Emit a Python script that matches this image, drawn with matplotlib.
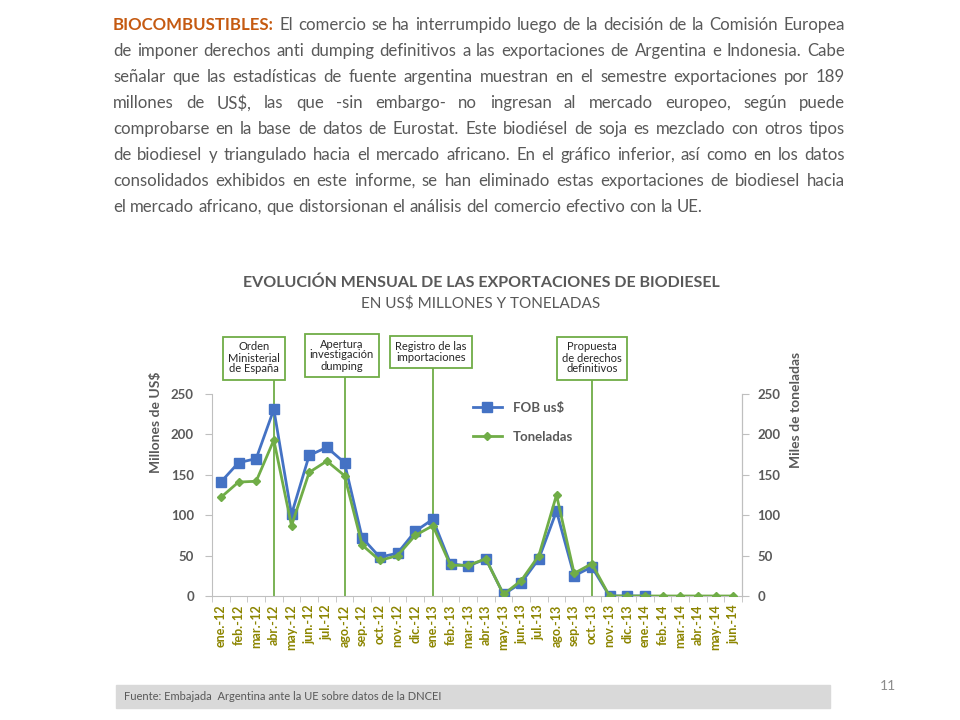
import matplotlib
matplotlib.use('Agg')
import matplotlib.pyplot as plt
import numpy as np

# region Data
months = ["ene.-12", "feb.-12", "mar.-12", "abr.-12", "may.-12", "jun.-12", "jul.-12",
          "ago.-12", "sep.-12", "oct.-12", "nov.-12", "dic.-12", "ene.-13", "feb.-13",
          "mar.-13", "abr.-13", "may.-13", "jun.-13", "jul.-13", "ago.-13", "sep.-13",
          "oct.-13", "nov.-13", "dic.-13", "ene.-14", "feb.-14", "mar.-14", "abr.-14",
          "may.-14", "jun.-14"]
fob_usd = [141, 165, 170, 231, 101, 174, 184, 165, 72, 48, 53, 80, 95, 40, 37, 46,
           2, 16, 46, 105, 25, 36, 0, 0, 0, None, None, None, None, None]
toneladas = [122, 141, 142, 193, 87, 153, 167, 149, 63, 44, 50, 75, 87, 38, 38, 46,
             2, 19, 50, 125, 28, 40, 0, 0, 0, 0, 0, 0, 0, 0]
events = [("abr.-12", "Orden\nMinisterial\nde España"),
          ("ago.-12", "Apertura\ninvestigación\ndumping"),
          ("ene.-13", "Registro de las\nimportaciones"),
          ("oct.-13", "Propuesta\nde derechos\ndefinitivos")]
paragraph = [
    "El comercio se ha interrumpido luego de la decisión de la Comisión Europea",
    "de imponer derechos anti dumping definitivos a las exportaciones de Argentina e Indonesia. Cabe",
    "señalar que las estadísticas de fuente argentina muestran en el semestre exportaciones por 189",
    "millones de US$, las que -sin embargo- no ingresan al mercado europeo, según puede",
    "comprobarse en la base de datos de Eurostat. Este biodiésel de soja es mezclado con otros tipos",
    "de biodiesel y triangulado hacia el mercado africano. En el gráfico inferior, así como en los datos",
    "consolidados exhibidos en este informe, se han eliminado estas exportaciones de biodiesel hacia",
    "el mercado africano, que distorsionan el análisis del comercio efectivo con la UE.",
]
# endregion

plt.rcParams['font.family'] = ['Lato', 'DejaVu Sans']

GRAY = '#595959'
BLUE = '#4472C4'
GREEN = '#70AD47'
OLIVE = '#8C8500'

fig = plt.figure(figsize=(9.6, 7.2), dpi=100)
W, H = 960, 720


def fx(px):
    return px / W


def fy(py):
    return 1 - py / H


renderer = fig.canvas.get_renderer()


def text_width(s, **kw):
    t = fig.text(0, 0, s, **kw)
    w = t.get_window_extent(renderer).width
    t.remove()
    return w


# paragraph, justified word by word
left_px, right_px = 113, 845
head = "BIOCOMBUSTIBLES:"
widest = max(text_width((head + " " if i == 0 else "") + l, fontsize=13)
             for i, l in enumerate(paragraph))
fs = min(13.5, 13 * (right_px - left_px - 20) / widest)
space = text_width("a a", fontsize=fs) - text_width("aa", fontsize=fs)
for i, line in enumerate(paragraph):
    y = fy(25 + i * 26)
    items = [(head, '#C55A11', 'bold')] if i == 0 else []
    items += [(w, GRAY, 'normal') for w in line.split(' ')]
    texts = [fig.text(0, y, w, fontsize=fs, color=c, fontweight=wt, va='center', ha='left')
             for w, c, wt in items]
    widths = [t.get_window_extent(renderer).width for t in texts]
    last = i == len(paragraph) - 1
    gap = space if last else (right_px - left_px - sum(widths)) / (len(texts) - 1)
    x = left_px
    for t, w in zip(texts, widths):
        t.set_x(fx(x))
        x += w + gap

fig.text(fx(481), fy(283), "EVOLUCIÓN MENSUAL DE LAS EXPORTACIONES DE BIODIESEL",
         fontsize=11.5, fontweight='bold', color=GRAY, ha='center', va='center')
fig.text(fx(481), fy(303), "EN US$ MILLONES Y TONELADAS",
         fontsize=11, color=GRAY, ha='center', va='center')

ax = fig.add_axes([fx(212), fy(596), fx(742 - 212), (596 - 394) / H])
x = np.arange(len(months))
fob = np.array([np.nan if v is None else v for v in fob_usd], dtype=float)
ton = np.array(toneladas, dtype=float)

for m, label in events:
    i = months.index(m)
    ax.plot([i, i], [0, 290], color=GREEN, lw=1.3, clip_on=False, zorder=1)

ax.plot(x, fob, color=BLUE, lw=2, marker='s', ms=7, label='FOB us$', zorder=3)
ax.plot(x, ton, color=GREEN, lw=2, marker='D', ms=4.5, label='Toneladas', zorder=4)

ax.set_xlim(-0.5, len(months) - 0.5)
ax.set_ylim(0, 250)
ax.set_yticks(range(0, 251, 50))
ax.set_xticks(x)
ax.set_xticklabels(months, rotation=90, color=OLIVE, fontweight='bold', fontsize=9)
ax.set_xticks(np.arange(-0.5, len(months), 1), minor=True)
ax.tick_params(axis='x', which='major', length=0, pad=6)
ax.tick_params(axis='x', which='minor', length=4, color='#BFBFBF', direction='out')
ax.tick_params(axis='y', length=5, color='#BFBFBF', labelcolor=GRAY, labelsize=9.5, pad=8)
for t in ax.get_yticklabels():
    t.set_fontweight('bold')
ax.spines['top'].set_visible(False)
for s in ['left', 'right', 'bottom']:
    ax.spines[s].set_color('#BFBFBF')
ax.set_ylabel("Millones de US$", color=GRAY, fontweight='bold', fontsize=10)
ax.yaxis.set_label_coords(-0.095, 0.86)

ax2 = ax.twinx()
ax2.set_ylim(0, 250)
ax2.set_yticks(range(0, 251, 50))
ax2.tick_params(axis='y', length=5, color='#BFBFBF', labelcolor=GRAY, labelsize=9.5, pad=6)
for t in ax2.get_yticklabels():
    t.set_fontweight('bold')
for s in ['top', 'left', 'bottom']:
    ax2.spines[s].set_visible(False)
ax2.spines['right'].set_color('#BFBFBF')
ax2.set_ylabel("Miles de toneladas", color=GRAY, fontweight='bold', fontsize=10)
ax2.yaxis.set_label_coords(1.09, 0.92)

leg = ax.legend(loc='upper left', bbox_to_anchor=(0.47, 1.02), frameon=False,
                labelspacing=1.3, handlelength=2.2, prop={'weight': 'bold', 'size': 9.5})
for t in leg.get_texts():
    t.set_color(GRAY)

# event boxes
for (m, label), (cx, cy) in zip(events, [(254, 358), (342, 355), (431, 352), (592, 358)]):
    fig.text(fx(cx), fy(cy), label, fontsize=8, color='#262626', ha='center', va='center',
             linespacing=1.0, zorder=5,
             bbox=dict(boxstyle='square,pad=0.45', fc='white', ec=GREEN, lw=1.3))

# footer
fig.patches.append(plt.Rectangle((fx(116), fy(708)), fx(830 - 116), (708 - 685) / H,
                                 transform=fig.transFigure, color='#D9D9D9', zorder=0))
fig.text(fx(124), fy(696), "Fuente: Embajada  Argentina ante la UE sobre datos de la DNCEI",
         fontsize=8, color=GRAY, va='center')
fig.text(fx(888), fy(686), "11", fontsize=10, color='#8C8C8C', ha='center', va='center')

fig.savefig('out.png', dpi=100)
